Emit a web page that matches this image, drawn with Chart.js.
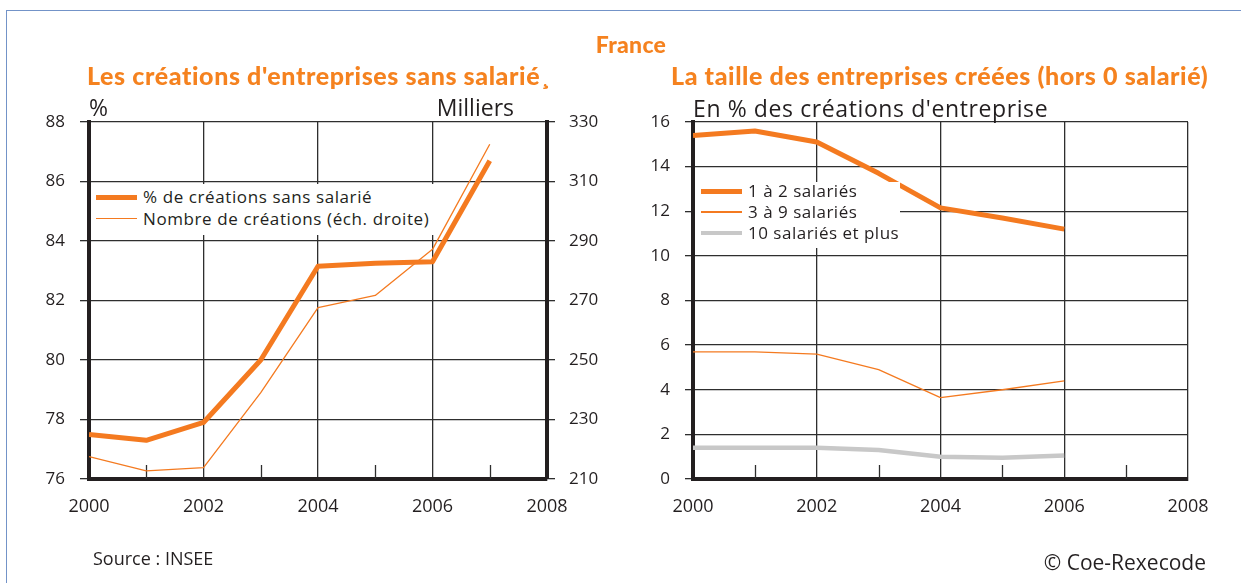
<!DOCTYPE html>
<html><head><meta charset="utf-8">
<script src="https://cdn.jsdelivr.net/npm/chart.js@4/dist/chart.umd.min.js"></script>
<style>
html,body{margin:0;padding:0;background:#fff;}
#page{position:relative;width:1241px;height:583px;overflow:hidden;background:#fff;font-family:'Open Sans',sans-serif;color:#231f20;}
.frame-top{position:absolute;left:6px;top:10px;width:1240px;height:0;border-top:1.5px solid #7393c8;}
.frame-left{position:absolute;left:6px;top:10px;width:0;height:580px;border-left:1.5px solid #7393c8;}
.ttl{position:absolute;font-family:Lato,sans-serif;font-weight:900;color:#f5821f;white-space:nowrap;line-height:1;}
.txt{position:absolute;line-height:1;white-space:nowrap;}
canvas{position:absolute;top:0;}
.legend{position:absolute;background:#fff;}
.row{position:absolute;height:20px;white-space:nowrap;font-size:17px;line-height:20px;}
.sw{position:absolute;}
</style></head>
<body>
<div id="page">
  <div class="frame-top"></div><div class="frame-left"></div>
  <canvas id="c1" width="620" height="583" style="left:0"></canvas>
  <canvas id="c2" width="621" height="583" style="left:620px"></canvas>
  <div class="ttl" style="left:531px;width:200px;text-align:center;top:33px;font-size:23px;letter-spacing:0.3px;">France</div>
  <div class="ttl" style="left:87px;top:63px;font-size:25px;letter-spacing:0.6px;">Les créations d'entreprises sans salarié¸</div>
  <div class="ttl" style="left:671px;top:63px;font-size:25px;letter-spacing:0.6px;">La taille des entreprises créées (hors 0 salarié)</div>
  <div class="txt" style="left:89px;top:96px;font-size:23px;">%</div>
  <div class="txt" style="left:400px;width:114px;text-align:right;top:96px;font-size:23px;">Milliers</div>
  <div class="txt" style="left:693px;top:97px;font-size:23px;letter-spacing:0.6px;">En % des créations d'entreprise</div>
  <div class="txt" style="left:93px;top:549px;font-size:18px;">Source : INSEE</div>
  <div class="txt" style="left:906px;width:300px;text-align:right;top:552px;font-size:21px;">© Coe-Rexecode</div>
  <div class="legend" id="leg1" style="left:91px;top:184px;width:343px;height:51px;"></div>
  <div class="legend" id="leg2" style="left:695px;top:182px;width:205px;height:66px;"></div>
</div>
<script>
// ---- data ----
const years = [2000, 2001, 2002, 2003, 2004, 2005, 2006, 2007];
const pctSansSalarie = [77.5, 77.3, 77.9, 80.0, 83.15, 83.25, 83.3, 86.7];
const nbCreationsMilliers = [217.5, 212.7, 213.8, 239.0, 267.6, 271.7, 287.2, 322.5];

const yearsTaille = [2000, 2001, 2002, 2003, 2004, 2005, 2006];
const taille1a2 = [15.4, 15.6, 15.1, 13.7, 12.15, 11.7, 11.2];
const taille3a9 = [5.7, 5.7, 5.6, 4.9, 3.65, 4.0, 4.4];
const taille10plus = [1.4, 1.4, 1.4, 1.3, 1.0, 0.95, 1.05];

const xTickYears = [2000, 2002, 2004, 2006, 2008];
const minorTickYears = [2001, 2003, 2005, 2007];
const pctTicks = [76, 78, 80, 82, 84, 86, 88];
const milliersTicks = [210, 230, 250, 270, 290, 310, 330];
const tailleTicks = [0, 2, 4, 6, 8, 10, 12, 14, 16];

const labels1 = ['% de créations sans salarié', 'Nombre de créations (éch. droite)'];
const labels2 = ['1 à 2 salariés', '3 à 9 salariés', '10 salariés et plus'];

// ---- styles ----
const ORANGE = '#f47a20';
const GREY = '#c8c8c8';
const GRID = '#2e2e2e';
const AXIS = '#231f20';
const TEXT = '#231f20';
Chart.defaults.font.family = "'Open Sans', sans-serif";
Chart.defaults.color = TEXT;

const pts = (xs, ys) => xs.map((x, i) => ({x, y: ys[i]}));
const setTicks = arr => s => { s.ticks = arr.map(v => ({value: v})); };

const minorTicks = {
  id: 'minorTicks',
  beforeDatasetsDraw(chart) {
    const {ctx, chartArea, scales} = chart;
    ctx.save();
    ctx.strokeStyle = GRID; ctx.lineWidth = 1.3;
    minorTickYears.forEach(v => {
      const px = Math.round(scales.x.getPixelForValue(v)) + 0.5;
      ctx.beginPath(); ctx.moveTo(px, chartArea.bottom); ctx.lineTo(px, chartArea.bottom - 14); ctx.stroke();
    });
    ctx.restore();
  }
};

function xScale() {
  return {
    type: 'linear', min: 2000, max: 2008,
    afterBuildTicks: setTicks(xTickYears),
    afterFit: s => { s.height = 104; s.paddingLeft = 0; s.paddingRight = 0; },
    grid: {color: GRID, lineWidth: 1.3, drawTicks: false},
    border: {color: AXIS, width: 4},
    ticks: {padding: 17, font: {size: 18}, color: TEXT, autoSkip: false, maxRotation: 0, callback: v => String(v)}
  };
}
function yScale(pos, min, max, tickArr, width, tickLen, pad, onArea, borderW) {
  return {
    type: 'linear', position: pos, min, max,
    afterBuildTicks: setTicks(tickArr),
    afterFit: s => { s.width = width; s.paddingTop = 0; s.paddingBottom = 0; },
    grid: {color: GRID, lineWidth: 1.3, tickLength: tickLen, drawOnChartArea: onArea},
    border: {color: AXIS, width: borderW},
    ticks: {padding: pad, font: {size: 17}, color: TEXT, callback: v => String(v)}
  };
}

const common = {
  responsive: false, animation: false, events: [],
  plugins: {legend: {display: false}, tooltip: {enabled: false}},
  elements: {point: {radius: 0}, line: {tension: 0, borderCapStyle: 'butt', borderJoinStyle: 'round'}}
};

const ds1 = [
  {label: labels1[0], data: pts(years, pctSansSalarie), yAxisID: 'y', borderColor: ORANGE, borderWidth: 5},
  {label: labels1[1], data: pts(years, nbCreationsMilliers), yAxisID: 'y1', borderColor: ORANGE, borderWidth: 1.3}
];
new Chart(document.getElementById('c1'), {
  type: 'line',
  data: {datasets: ds1},
  options: Object.assign({}, common, {
    layout: {padding: {top: 122, left: 0, right: 0, bottom: 0}},
    scales: {
      x: xScale(),
      y: yScale('left', 76, 88, pctTicks, 89, 9, 15, true, 4),
      y1: yScale('right', 210, 330, milliersTicks, 73, 8, 14, false, 4)
    }
  }),
  plugins: [minorTicks]
});

const ds2 = [
  {label: labels2[0], data: pts(yearsTaille, taille1a2), borderColor: ORANGE, borderWidth: 5},
  {label: labels2[1], data: pts(yearsTaille, taille3a9), borderColor: ORANGE, borderWidth: 1.3},
  {label: labels2[2], data: pts(yearsTaille, taille10plus), borderColor: GREY, borderWidth: 4.5}
];
new Chart(document.getElementById('c2'), {
  type: 'line',
  data: {datasets: ds2},
  options: Object.assign({}, common, {
    layout: {padding: {top: 122, left: 0, right: 53, bottom: 0}},
    scales: {
      x: xScale(),
      y: yScale('left', 0, 16, tailleTicks, 73, 8, 15, true, 4)
    }
  }),
  plugins: [minorTicks]
});

// ---- HTML legends built from the datasets ----
function buildLegend(id, datasets, rowTops, swLeft, swWidth, textLeft, spacing) {
  const box = document.getElementById(id);
  datasets.forEach((d, i) => {
    const sw = document.createElement('div');
    sw.className = 'sw';
    const h = d.borderWidth;
    sw.style.left = swLeft + 'px';
    sw.style.width = swWidth + 'px';
    sw.style.height = h + 'px';
    sw.style.top = (rowTops[i] + 10 - h / 2) + 'px';
    sw.style.background = d.borderColor;
    box.appendChild(sw);
    const r = document.createElement('div');
    r.className = 'row';
    r.style.left = textLeft + 'px';
    r.style.top = rowTops[i] + 'px';
    r.style.letterSpacing = spacing + 'px';
    r.textContent = d.label;
    box.appendChild(r);
  });
}
buildLegend('leg1', ds1, [3, 24.5], 5, 41, 52, 0.6);
buildLegend('leg2', ds2, [-1, 20, 41], 6, 41, 53, 0.5);
</script>
</body></html>
